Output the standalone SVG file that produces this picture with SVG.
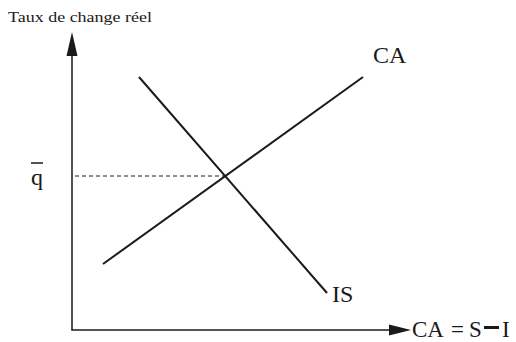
<svg xmlns="http://www.w3.org/2000/svg" width="516" height="342" viewBox="0 0 516 342">
<style>
text{font-family:"Liberation Serif","Times New Roman",serif;fill:#1a1a1a}
.ax{stroke:#1a1a1a;stroke-width:1.5;fill:none}
.cv{stroke:#1a1a1a;stroke-width:2;fill:none}
.ah{fill:#1a1a1a}
</style>
<rect width="516" height="342" fill="#fff"/>
<g id="axes">
<line class="ax" x1="72" y1="50" x2="72" y2="330"/>
<line class="ax" x1="71.3" y1="330" x2="395" y2="330"/>
<polygon class="ah" points="72,32 66.5,56 77.5,56"/>
<polygon class="ah" points="411,330 389,324.5 389,335.5"/>
<text x="8" y="22" font-size="15" textLength="144" lengthAdjust="spacingAndGlyphs">Taux de change réel</text>
<text y="337" font-size="23"><tspan x="412">CA</tspan><tspan x="451">=</tspan><tspan x="469">S</tspan><tspan x="502">I</tspan></text>
<rect x="484" y="326" width="15" height="3" fill="#1a1a1a"/>
</g>
<g id="connectors">
<line class="cv" x1="103" y1="264" x2="363" y2="77"/>
<line class="cv" x1="139" y1="77" x2="327" y2="293"/>
<line x1="75" y1="176" x2="226" y2="176" stroke="#1a1a1a" stroke-width="1" stroke-dasharray="4,3"/>
</g>
<g id="label-CA"><text x="373" y="63" font-size="24">CA</text></g>
<g id="label-IS"><text x="332" y="302" font-size="24">IS</text></g>
<g id="label-q">
<text x="31" y="185" font-size="24">q</text>
<line x1="31" y1="163" x2="43" y2="163" stroke="#1a1a1a" stroke-width="1.5"/>
</g>
</svg>
